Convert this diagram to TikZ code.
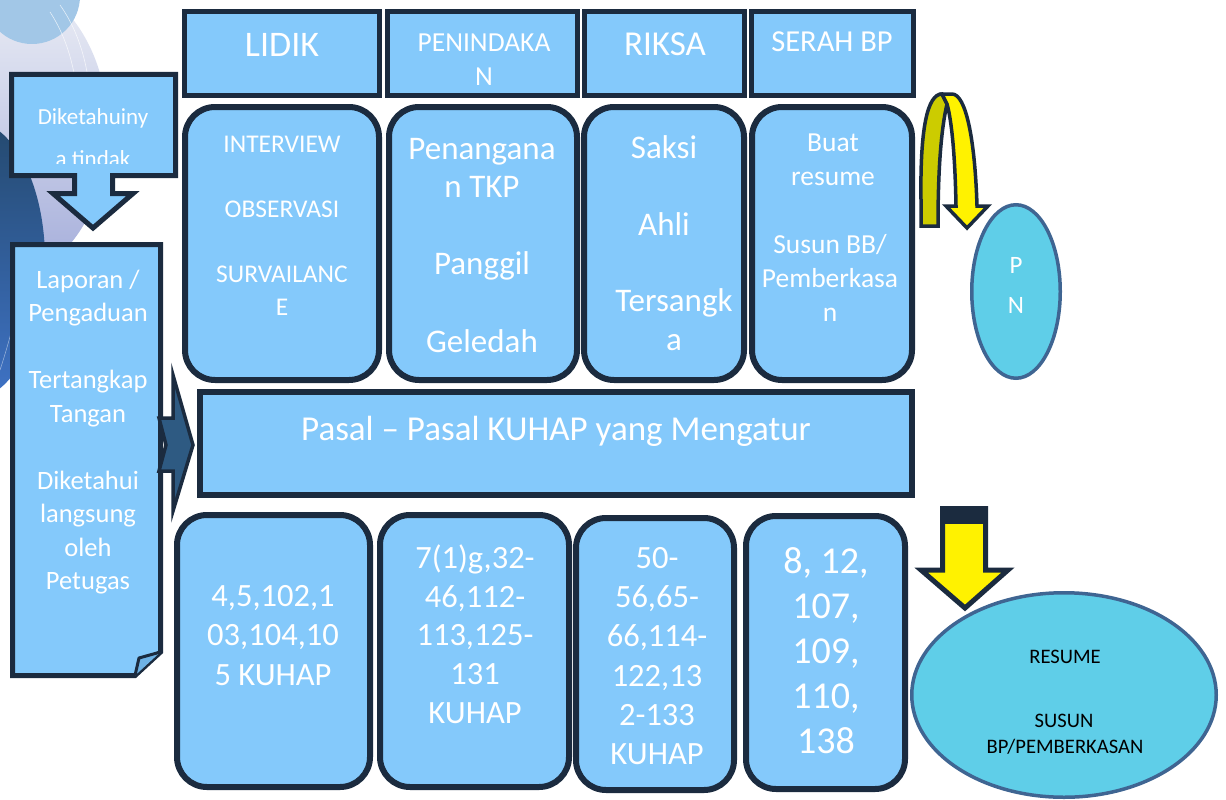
\documentclass[tikz,border=0pt]{standalone}
\usepackage{fontspec}
\setmainfont{Carlito}
\usetikzlibrary{shapes.geometric}
\definecolor{navy}{HTML}{1B2B3F}
\definecolor{boxblue}{HTML}{84C9FB}
\definecolor{ellblue}{HTML}{5FCEE8}
\definecolor{ellline}{HTML}{3F6592}
\definecolor{chev}{HTML}{2E5A82}
\definecolor{dyellow}{HTML}{CCCC00}
\definecolor{foldblue}{HTML}{6DB2E6}
\definecolor{lav1}{HTML}{EEF0F6}
\definecolor{lav2}{HTML}{A3ACDA}
\definecolor{dk1}{HTML}{24496E}
\definecolor{dk2}{HTML}{3F73C6}
\definecolor{circ}{HTML}{A2C7E7}
\newcommand\tlines[6]{%
  \foreach \t [count=\i] in {#6} {\node[txt, font=\fontsize{#5}{#5}\selectfont] (#1-\i) at (#2,{#3+(\i-1)*#4}) {\t};}}
\begin{document}
\begin{tikzpicture}[x=1pt,y=-1pt,
  hdr/.style={draw=navy, fill=boxblue, line width=5pt, rectangle, inner sep=0pt},
  rbox/.style={draw=navy, fill=boxblue, line width=6pt, rectangle, rounded corners=30pt, inner sep=0pt},
  ell/.style={draw=ellline, fill=ellblue, line width=3.5pt, ellipse, inner sep=0pt},
  txt/.style={text=white, anchor=base, inner sep=0pt},
  btxt/.style={text=black, anchor=base, inner sep=0pt},
  outl/.style={draw=navy, line join=miter},
]
\useasboundingbox (0,0) rectangle (1226,800);
% background decoration
\begin{scope}
\clip (0,0) rectangle (1226,800);
\shade[top color=lav1, bottom color=lav2] (0,130) ellipse [x radius=108, y radius=150];
\shade[top color=dk1, bottom color=dk2] (-30,260) ellipse [x radius=75, y radius=140];
\fill[circ] (32,-4) circle (48);
\draw[white, line width=0.6pt, opacity=0.7] (60,5) .. controls (85,40) and (95,90) .. (90,150);
\draw[white, line width=0.6pt, opacity=0.7] (50,12) .. controls (75,50) and (82,100) .. (78,160);
\draw[white, line width=0.5pt, opacity=0.5] (30,250) .. controls (20,300) and (10,340) .. (0,370);
\end{scope}

% header boxes
\node[hdr, minimum width=195pt, minimum height=84pt] (h1) at (282,53.5) {};
\node[hdr, minimum width=190pt, minimum height=84pt] (h2) at (482.5,53.5) {};
\node[hdr, minimum width=160pt, minimum height=84pt] (h3) at (664.5,53.5) {};
\node[hdr, minimum width=162pt, minimum height=84pt] (h4) at (832.5,53.5) {};
\tlines{th1}{282}{57}{34}{36}{LIDIK}
\tlines{th2}{484}{52}{33}{27.5}{PENINDAKA,N}
\tlines{th3}{665}{56}{33}{35}{RIKSA}
\tlines{th4}{832}{52}{33}{30.5}{SERAH BP}

% row 2
\node[rbox, minimum width=194pt, minimum height=273pt] (r1) at (282,243.5) {};
\node[rbox, minimum width=188pt, minimum height=273pt] (r2) at (483,243.5) {};
\node[rbox, minimum width=160pt, minimum height=273pt] (r3) at (664,243.5) {};
\node[rbox, minimum width=160pt, minimum height=273pt] (r4) at (832,243.5) {};
\tlines{tr1}{282}{152}{32.6}{25.5}{INTERVIEW,~,OBSERVASI,~,SURVAILANC,E}
\tlines{tr2}{482}{159}{38.6}{33}{Penangana,n TKP,~,Panggil,~,Geledah}
\tlines{tr3}{664}{158.3}{76.8}{33}{Saksi,Ahli}
\tlines{tr3b}{674}{311.9}{38.4}{33}{Tersangk,a}
\tlines{tr4}{833}{151.7}{34}{27.5}{Buat,resume}
\tlines{tr4b}{830}{253.7}{34}{27.5}{Susun BB/,Pemberkasa,n}

% bar
\node[hdr, line width=6pt, minimum width=712pt, minimum height=103pt] (bar) at (556,443.5) {};
\tlines{tbar}{556}{440}{34}{35}{Pasal – Pasal KUHAP yang Mengatur}

% bottom row
\node[rbox, minimum width=193pt, minimum height=272pt] (b1) at (273.5,651) {};
\node[rbox, minimum width=189pt, minimum height=272pt] (b2) at (474.5,651) {};
\node[rbox, minimum width=158pt, minimum height=272pt] (b3) at (655,654) {};
\node[rbox, minimum width=159pt, minimum height=273pt] (b4) at (825.5,652.5) {};
\tlines{tb1}{273}{606.7}{39.2}{32.5}{{4,5,102,1},{03,104,10},{5 KUHAP}}
\tlines{tb2}{475}{568.3}{38.8}{32.5}{{7(1)g,32-},{46,112-},{113,125-},131,KUHAP}
\tlines{tb3}{657}{568.3}{39.3}{32.5}{50-,{56,65-},{66,114-},{122,13},2-133,KUHAP}
\tlines{tb4}{826}{573}{45}{38}{{8, 12,},{107,},{109,},{110,},138}

% left note box
\path[outl, fill=boxblue, line width=5pt] (12.5,244.5) -- (160.5,244.5) -- (160.5,652) -- (135,675.5) -- (12.5,675.5) -- cycle;
\path[outl, fill=foldblue, line width=3pt, line join=round] (160.5,652) -- (139,658) -- (135,675.5);
\tlines{tl}{88}{288.3}{33.5}{26.5}{Laporan /,Pengaduan,~,Tertangkap,Tangan,~,Diketahui,langsung,oleh,Petugas}

% top-left callout
\path[outl, fill=boxblue, line width=5pt] (11.5,74.5) -- (175.5,74.5) -- (175.5,175.5) -- (112.5,175.5) -- (112.5,193.5) -- (133,193.5) -- (93,228) -- (53,193.5) -- (74.5,193.5) -- (74.5,175.5) -- (11.5,175.5) -- cycle;
\begin{scope}
\clip (14,77) rectangle (173,163);
\tlines{tc}{93}{124}{42}{23}{Diketahuiny,a tindak}
\end{scope}

% notched right arrow
\path[outl, fill=chev, line width=3.5pt] (159,418) -- (173,418) -- (173,375) -- (193,445) -- (173,511) -- (173,471) -- (159,471) -- (166,445) -- cycle;

% U-turn arrow
\path[outl, fill=dyellow, line width=3.5pt] (921,226) -- (921,200) .. controls (920,130) and (927,94) .. (942,94) -- (947,104) .. controls (941,130) and (938,170) .. (938,226) -- cycle;
\path[outl, fill=yellow, line width=3.5pt] (942,94) -- (952,94) .. controls (966,94) and (975,140) .. (977,206) -- (988,206) -- (967,228) -- (946,206) -- (956,206) .. controls (955,150) and (951,118) .. (947,104) -- cycle;

% PN ellipse
\node[ell, minimum width=88.5pt, minimum height=173.5pt] (pn) at (1016,291.5) {};
\node[txt, font=\fontsize{25}{25}\selectfont] (pn-1) at (1016,273) {P};
\node[txt, font=\fontsize{25}{25}\selectfont] (pn-2) at (1016,313) {N};

% down arrow
\path[outl, fill=yellow, line width=5pt] (942.5,508.5) -- (985.5,508.5) -- (985.5,570) -- (1008,570) -- (965,608) -- (921,570) -- (942.5,570) -- cycle;
\fill[navy] (940,506) rectangle (988,524);

% resume ellipse
\node[ell, minimum width=304.5pt, minimum height=204.5pt] (res) at (1064,695) {};
\node[btxt, font=\fontsize{20.6}{20.6}\selectfont] (res-1) at (1065,663) {RESUME};
\node[btxt, font=\fontsize{20.6}{20.6}\selectfont] (res-2) at (1064,727) {SUSUN};
\node[btxt, font=\fontsize{20.6}{20.6}\selectfont] (res-3) at (1065,753) {BP/PEMBERKASAN};
\end{tikzpicture}
\end{document}
